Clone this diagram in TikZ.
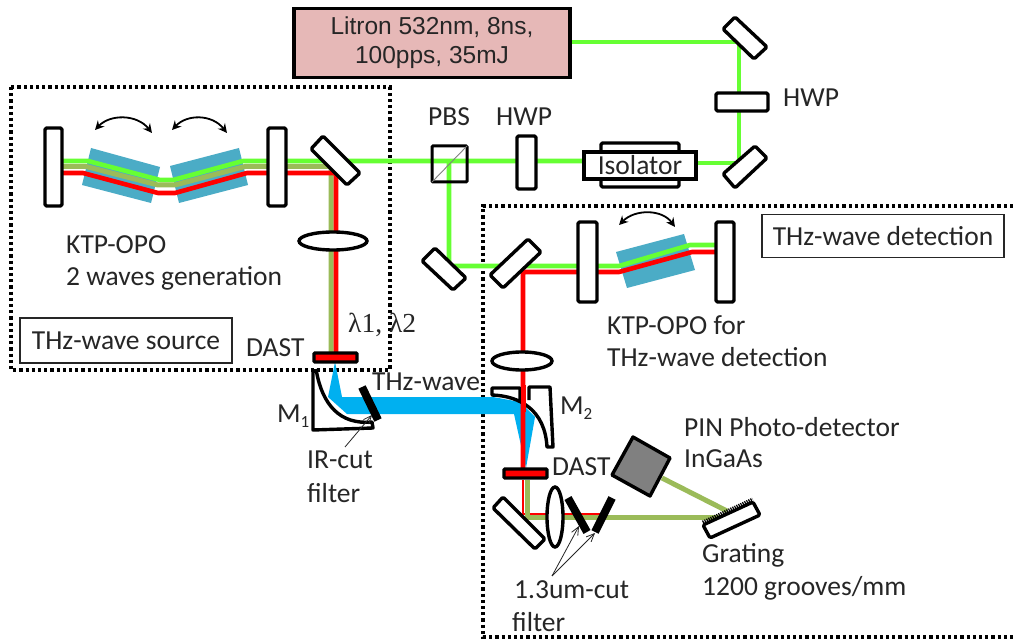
\documentclass[tikz,border=0pt]{standalone}
\usepackage{fontspec}
\setmainfont{Carlito}
\newfontfamily\arialf{Liberation Sans}
\newfontfamily\serf{Liberation Serif}
\usetikzlibrary{arrows.meta}
\definecolor{beamgreen}{HTML}{66FF33}
\definecolor{beamolive}{HTML}{9BBB59}
\definecolor{beamred}{HTML}{FF0000}
\definecolor{crystal}{HTML}{4BACC6}
\definecolor{thz}{HTML}{00B0F0}
\definecolor{laser}{HTML}{E6B8B7}
\definecolor{tx}{HTML}{262626}
\newcommand{\subdig}[1]{\raisebox{-5pt}{\fontsize{17}{17}\selectfont #1}}
\tikzset{
 optic/.style={draw=black,line width=3.4pt,fill=white,rounded corners=1.5pt,line join=round},
 cryst/.style={fill=crystal,draw=none},
 greenb/.style={draw=beamgreen,line width=4.6pt,line join=round},
 oliveb/.style={draw=beamolive,line width=5pt,line join=round},
 redb/.style={draw=beamred,line width=4.6pt,line join=round},
 dotbox/.style={draw=black,line width=3.4pt,dash pattern=on 3.2pt off 3pt},
 lab/.style={anchor=west,inner sep=0pt,text=tx,font=\fontsize{27.5}{32}\selectfont},
 swing/.style={draw=black,line width=1.8pt,{Stealth[length=9pt,width=9pt,inset=3pt]}-{Stealth[length=9pt,width=9pt,inset=3pt]}},
 pointer/.style={draw=tx,line width=0.8pt,-{Straight Barb[length=8pt,width=7pt]}},
 filt/.style={draw=black,line width=8pt},
 lens/.style={draw=black,line width=3.4pt,fill=white},
 cut/.style={fill=beamred,draw=black,line width=3.4pt,rounded corners=1pt},
 boxlab/.style={draw=tx,line width=1.4pt,fill=white,inner sep=0pt,text=tx,font=\fontsize{27.5}{32}\selectfont,align=center},
}
\begin{document}
\begin{tikzpicture}[x=1pt,y=-1pt]
\useasboundingbox (0,0) rectangle (1013,639);
\fill[white] (0,0) rectangle (1013,639);
% dotted regions
\draw[dotbox] (11,87) rectangle (390,370);
\draw[dotbox] (1013,206) -- (483,206) -- (483,637) -- (1013,637);
% THz beam
\fill[thz] (335,362) -- (342,397) -- (493,397) -- (520,402) -- (535,417) -- (526,468) -- (514,414) -- (347,414) -- (328,397) -- cycle;
% crystals
\fill[cryst] (91,148) -- (160,167) -- (151,203) -- (82,185) -- cycle;
\fill[cryst] (170,166) -- (239,148) -- (248,185) -- (179,203) -- cycle;
\fill[cryst] (616,252) -- (684,234) -- (695,270) -- (627,288) -- cycle;
% source cavity beams
\draw[greenb] (62,161) -- (88,161) -- (160,180) -- (173,180) -- (243,161) -- (450,161) -- (585,161);
\draw[oliveb] (62,166.5) -- (86,166.5) -- (158,185) -- (175,185) -- (245,166.5) -- (331,166.5) -- (331,352);
\draw[redb] (62,173) -- (83,173) -- (158,193) -- (175,193) -- (247,173) -- (336,173) -- (336,352);
% laser line
\draw[greenb] (571,42) -- (739,42) -- (739,163) -- (696,163);
\draw[greenb] (449,161) -- (449,266) -- (619,266) -- (690,245) -- (716,245);
\draw[redb] (523,468) -- (523,272) -- (619,272) -- (692,252) -- (716,252);
% lower beams
\draw[draw=beamred,line width=2.4pt] (523,480) -- (523,514) -- (600,514);
\draw[oliveb] (527,480) -- (527,517) -- (727,517);
\draw[oliveb] (727,511) -- (662,478);
% source optics
\draw[optic] (45,128) rectangle (62,206);
\draw[optic] (268,128) rectangle (286,206);
\draw[optic] (323,136) -- (360,173) -- (347,185) -- (311,149) -- cycle;
\draw[lens] (333,241) ellipse (34 and 9);
\draw[cut] (314,353) rectangle (357,362);
% Laser
\node[draw=black,line width=3.4pt,fill=laser,minimum width=276pt,minimum height=69pt,inner sep=0pt,
  align=center,text=tx,font=\arialf\fontsize{24.5}{29}\selectfont] (litron) at (432,43) {Litron 532nm, 8ns,\\100pps, 35mJ};
% Upper line optics
\draw[optic] (735,17) -- (767,47) -- (754,59) -- (723,29) -- cycle;
\draw[optic] (716,93) rectangle (768,111);
\draw[optic] (723,174) -- (755,146) -- (767,158) -- (735,188) -- cycle;
\draw[optic] (601,143) rectangle (679,187);
\node[draw=black,line width=3.4pt,fill=white,minimum width=112pt,minimum height=27pt,inner sep=0pt,
  text=tx,font=\fontsize{27.5}{32}\selectfont] (iso) at (640,165.5) {Isolator};
\draw[optic] (517,136) rectangle (536,189);
\draw[draw=black,line width=3pt,rounded corners=1pt] (432,146) rectangle (467,182);
\draw[draw=gray,line width=0.9pt] (432,182) -- (467,146);
% Detection optics
\draw[optic] (435,248) -- (466,278) -- (453,290) -- (422,261) -- cycle;
\draw[optic] (528,239) -- (541,252) -- (503,288) -- (490,275) -- cycle;
\draw[optic] (578,222) rectangle (597,302);
\draw[optic] (716,222) rectangle (734,302);
\draw[lens] (522,361) ellipse (30 and 9);
\draw[cut] (504,469) rectangle (547,478);
\draw[optic] (503,497) -- (545,539) -- (535,549) -- (493,508) -- cycle;
\draw[lens] (555,517) ellipse (8 and 30);
\draw[filt] (568,498) -- (587,532);
\draw[filt] (612,498) -- (595,532);
\draw[draw=black,line width=3.4pt,fill=black!50,line join=round] (633,437) -- (670,458) -- (650,496) -- (612,475) -- cycle;
\draw[optic] (703,525) -- (753,502) -- (760,515) -- (710,538) -- cycle;
\draw[draw=black,line width=5pt,dash pattern=on 1.2pt off 1pt] (703,523) -- (753,500);
% Parabolic mirrors
\draw[draw=black,line width=3.4pt,line join=round] (313,369) -- (313,430) -- (373,428) -- (372,422)
  .. controls (340,425) and (322,405) .. (316,369);
\draw[draw=black,line width=3.4pt,line join=round] (520,402) -- (520,388) -- (492,388) -- (492,395)
  .. controls (520,396) and (545,410) .. (547,447) -- (553,447) -- (550,387) -- (529,387) -- (529,400);
\draw[redb] (523.5,385) -- (523.5,412);
% IR filter
\draw[filt] (362,387) -- (378,420);
% arrows
\coordinate (sw1a) at (95,130); \coordinate (sw1b) at (152,133);
\coordinate (sw2a) at (172,130); \coordinate (sw2b) at (227,133);
\coordinate (sw3a) at (619,225); \coordinate (sw3b) at (675,227);
\draw[swing] (sw1a) .. controls (110,114) and (137,114) .. (sw1b);
\draw[swing] (sw2a) .. controls (187,114) and (212,114) .. (sw2b);
\draw[swing] (sw3a) .. controls (635,209) and (662,209) .. (sw3b);
\coordinate (irp) at (345,447); \coordinate (irt) at (372,415);
\draw[pointer] (irp) -- (irt);
\coordinate (cp) at (552,576); \coordinate (ct1) at (579,526); \coordinate (ct2) at (595,533);
\draw[pointer] (cp) -- (ct1);
\draw[pointer] (cp) -- (ct2);
% texts
\node[lab] (t1) at (66,245) {KTP-OPO};
\node[lab] (t2) at (66,278) {2 waves generation};
\node[boxlab,minimum width=212pt,minimum height=45pt] (t3) at (126,340.5) {THz-wave source};
\node[lab] (t4) at (246,348) {DAST};
\node[lab,font=\serf\fontsize{27.5}{32}\selectfont] (t5) at (348,325) {λ1, λ2};
\node[lab] (t6) at (372,382) {THz-wave};
\node[lab] (t7) at (277,416) {M\subdig{1}};
\node[lab] (t8) at (307,460) {IR-cut};
\node[lab] (t9) at (307,493) {filter};
\node[lab] (t10) at (428,117) {PBS};
\node[lab] (t11) at (496,117) {HWP};
\node[lab] (t12) at (783,98) {HWP};
\node[boxlab,minimum width=242pt,minimum height=43pt] (t13) at (883,236) {THz-wave detection};
\node[lab] (t14) at (607,325) {KTP-OPO for};
\node[lab] (t15) at (607,357) {THz-wave detection};
\node[lab] (t16) at (560,408) {M\subdig{2}};
\node[lab] (t17) at (552,467) {DAST};
\node[lab] (t18) at (684,427) {PIN Photo-detector};
\node[lab] (t19) at (684,459) {InGaAs};
\node[lab] (t20) at (702,555) {Grating};
\node[lab] (t21) at (702,588) {1200 grooves/mm};
\node[lab] (t22) at (514,590) {1.3um-cut};
\node[lab] (t23) at (512,622) {filter};
\end{tikzpicture}
\end{document}
